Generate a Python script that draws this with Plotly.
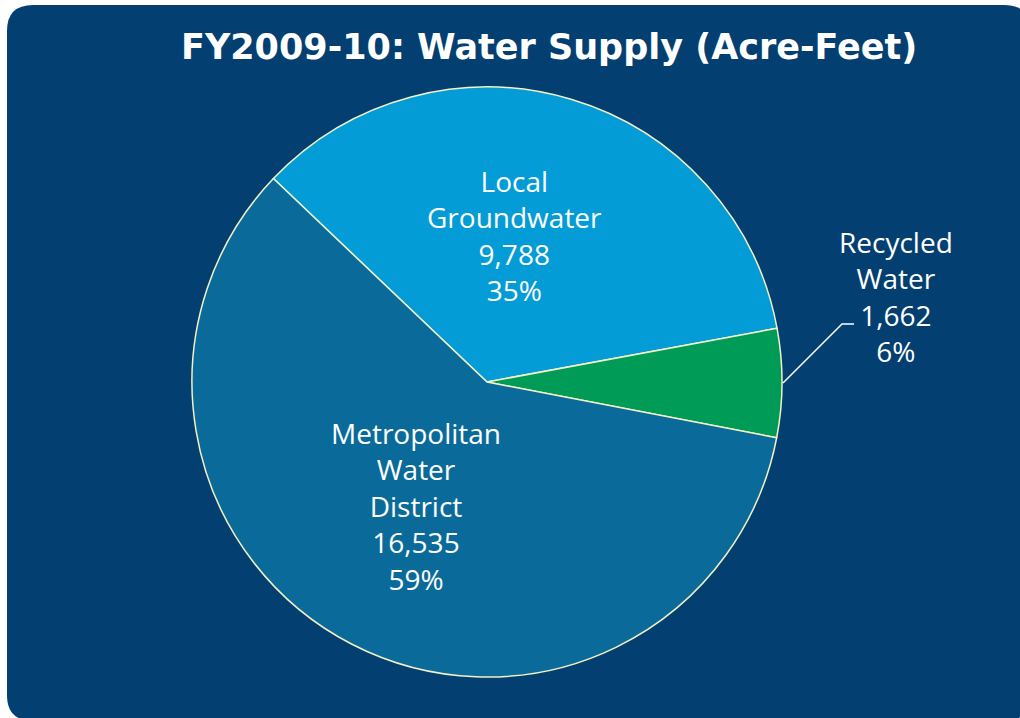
import plotly.graph_objects as go

W, H = 1020, 718

categories = ["Local<br>Groundwater", "Recycled<br>Water", "Metropolitan<br>Water<br>District"]
values = [9788, 1662, 16535]
colors = ["#049cd6", "#009b57", "#0a6b9b"]
title_text = "FY2009-10: Water Supply (Acre-Feet)"

total = sum(values)
pcts = [round(v / total * 100) for v in values]

def px(x):
    return x / W

def py(y):
    return 1 - y / H

fig = go.Figure()
fig.add_trace(go.Pie(
    labels=categories,
    values=values,
    sort=False,
    direction="clockwise",
    rotation=-46.4,
    marker=dict(colors=colors, line=dict(color="#f4f1c6", width=1.5)),
    textinfo="none",
    hoverinfo="label+value+percent",
    showlegend=False,
    domain=dict(x=[px(192), px(782)], y=[py(677), py(87)]),
))

# rounded card background
x0, y0, x1, y1, r = 7, 5, 1030, 721, 26
path = (
    f"M {px(x0)},{py(y0 + r)} "
    f"Q {px(x0)},{py(y0)} {px(x0 + r)},{py(y0)} "
    f"L {px(x1 - r)},{py(y0)} "
    f"Q {px(x1)},{py(y0)} {px(x1)},{py(y0 + r)} "
    f"L {px(x1)},{py(y1 - r)} "
    f"Q {px(x1)},{py(y1)} {px(x1 - r)},{py(y1)} "
    f"L {px(x0 + r)},{py(y1)} "
    f"Q {px(x0)},{py(y1)} {px(x0)},{py(y1 - r)} Z"
)
shapes = [dict(type="path", path=path, xref="paper", yref="paper",
               fillcolor="#033f70", line=dict(width=0), layer="below")]

# leader line for recycled water
shapes.append(dict(type="path", xref="paper", yref="paper",
                   path=f"M {px(783)},{py(383)} L {px(842)},{py(324)} L {px(854)},{py(324)}",
                   line=dict(color="#ffffff", width=1.5)))

label_pos = [(514, 236), (896, 296), (416, 506)]
font_fam = "'Open Sans', Lato, sans-serif"
annotations = [dict(text=f"<b>{title_text}</b>", x=px(549), y=py(47), xref="paper", yref="paper",
                    xanchor="center", yanchor="middle",
                    showarrow=False, font=dict(family="'DejaVu Sans', sans-serif", size=35, color="white"))]
for cat, v, p, (lx, ly) in zip(categories, values, pcts, label_pos):
    annotations.append(dict(
        text=f"{cat}<br>{v:,}<br>{p}%", x=px(lx), y=py(ly), xref="paper", yref="paper",
        xanchor="center", yanchor="middle",
        showarrow=False, align="center",
        font=dict(family=font_fam, size=28, color="white")))

fig.update_layout(
    width=W, height=H,
    margin=dict(l=0, r=0, t=0, b=0),
    paper_bgcolor="white",
    plot_bgcolor="white",
    shapes=shapes,
    annotations=annotations,
)

fig.write_html("out.html", config={"displayModeBar": False},
               post_script="document.body.style.margin='0px';")
